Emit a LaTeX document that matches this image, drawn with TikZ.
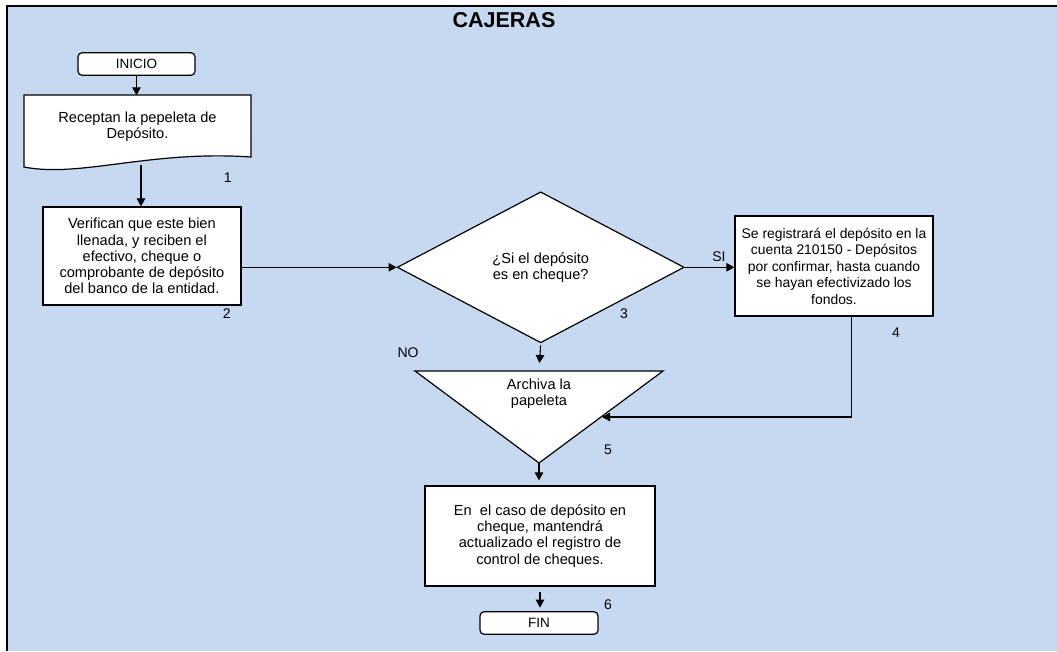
\documentclass[tikz,border=0pt]{standalone}
\usepackage{fontspec}
\setmainfont{Liberation Sans}
\usetikzlibrary{arrows.meta,shapes.geometric}
\definecolor{bg}{RGB}{198,217,240}
\begin{document}
\begin{tikzpicture}[x=1pt,y=-1pt,
  txt/.style={font=\fontsize{14.6}{16.2}\selectfont, align=center, inner sep=0pt},
  proc/.style={draw, fill=white, line width=1.2pt, txt},
  term/.style={draw, fill=white, rounded corners=4pt, line width=1.2pt, txt, minimum width=117pt, minimum height=22.5pt},
  arr/.style={-{Triangle[length=8pt,width=8.5pt]}, line width=1.1pt},
  lbl/.style={font=\fontsize{14}{15}\selectfont, inner sep=0pt}]
\useasboundingbox (0,0) rectangle (1057,651);
\fill[bg] (7,6) rectangle (1057,651);
\draw[line width=2.2pt] (7,651) -- (7,6) -- (1057,6);
\node[font=\bfseries\fontsize{21.5}{24}\selectfont, inner sep=0pt] (title) at (504,20) {CAJERAS};

% start / end
\node[term, font=\fontsize{13.5}{15}\selectfont] (inicio) at (136.5,64) {INICIO};
\node[term, font=\fontsize{13.5}{15}\selectfont, minimum width=118pt] (fin) at (539,623) {FIN};

% document shape (step 1)
\filldraw[fill=white, line width=1.2pt] (24,95) -- (251,95) -- (251,157)
  .. controls (150,150) and (80,178) .. (24,167) -- cycle;
\node[txt, minimum width=227pt, minimum height=62pt] (doc) at (137.5,126.5) {Receptan la pepeleta de\\Depósito.};
\coordinate (docb) at (141,165);

% step 2
\node[proc, minimum width=198pt, minimum height=98pt] (box2) at (141.9,256) {Verifican que este bien\\llenada, y reciben el\\efectivo, cheque o\\comprobante de depósito\\del banco de la entidad.};

% decision 3
\node[draw, fill=white, diamond, line width=1.2pt, minimum width=287pt, minimum height=151pt, txt] (dec) at (540.7,267.3) {¿Si el depósito\\es en cheque?};

% step 4
\node[proc, font=\fontsize{13.9}{16.5}\selectfont, minimum width=198pt, minimum height=100pt] (box4) at (834,266) {Se registrará el depósito en la\\cuenta 210150 - Depósitos\\por confirmar, hasta cuando\\se hayan efectivizado los\\fondos.};

% triangle 5 (archive)
\filldraw[fill=white, line width=1.2pt] (415,371) -- (663,371) -- (539,463) -- cycle;
\coordinate (tritop) at (539,371);
\coordinate (triapex) at (539,463);
\coordinate (trientry) at (602,417);
\node[txt] (arch) at (539,394) {Archiva la\\papeleta};

% step 6
\node[proc, minimum width=230pt, minimum height=100pt] (box6) at (540,536) {En\ \ el caso de depósito en\\cheque, mantendrá\\actualizado el registro de\\control de cheques.};

% connectors
\draw[arr] (inicio.south) -- (inicio.south |- doc.north);
\draw[arr] (docb) -- (docb |- box2.north);
\draw[arr] (box2.east |- dec.west) -- (dec.west);
\draw[arr] (dec.east) -- (dec.east -| box4.west);
\draw[arr, shorten <=2pt, shorten >=8pt] (dec.south) -- (tritop);
\coordinate (b4out) at ([xshift=17.7pt]box4.south);
\draw[arr] (b4out) |- (trientry);
\draw[arr, shorten >=5pt] (triapex) -- (triapex |- box6.north);
\draw[arr, shorten <=5pt, shorten >=3.5pt] (box6.south) -- (box6.south |- fin.north);

% labels
\node[lbl] (l1) at (227.7,178) {1};
\node[lbl] (l2) at (226.7,314) {2};
\node[lbl] (l3) at (624,314) {3};
\node[lbl] (l4) at (896,333) {4};
\node[lbl] (l5) at (608,450) {5};
\node[lbl] (l6) at (608,605) {6};
\node[lbl] (no) at (408,353) {NO};
\node[lbl] (si) at (719,256.5) {SI};
\end{tikzpicture}
\end{document}
